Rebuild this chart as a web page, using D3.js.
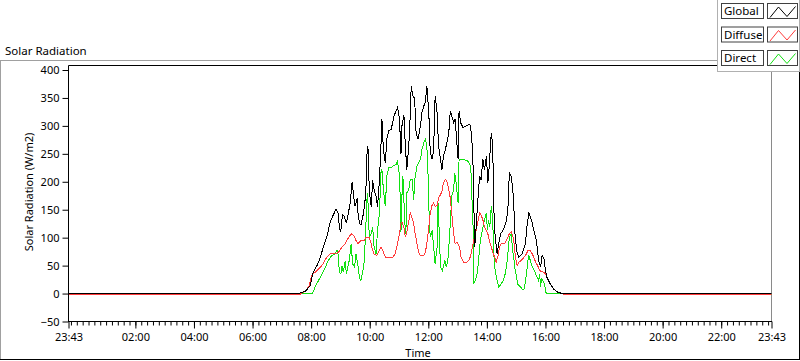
<!DOCTYPE html>
<html><head><meta charset="utf-8">
<script src="https://cdn.jsdelivr.net/npm/d3@7"></script>
<style>
html,body{margin:0;padding:0;background:#fff;}
svg{display:block;font-family:"Noto Sans",sans-serif;}
</style></head>
<body><svg id="c" width="800" height="361"></svg>
<script>
// ---------------- DATA ----------------
const chartTitle = "Solar Radiation";
const yAxisTitle = "Solar Radiation (W/m2)";
const xAxisTitle = "Time";
const seriesNames = ["Global", "Diffuse", "Direct"];
const seriesColors = ["#000000", "#ff3b3b", "#12e012"];
const yTicks = [-50, 0, 50, 100, 150, 200, 250, 300, 350, 400];
const xStartLabel = "23:43";
const xEndLabel = "23:43";
const xMidTickHours = ["02:00","04:00","06:00","08:00","10:00","12:00","14:00","16:00","18:00","20:00","22:00"];

// night values (sensor offset seen below the zero line)
const globalNight = 0, diffuseNight = -2, directNight = -2;

const globalTimes = ["07:31","07:37","07:48","07:58","08:04","08:12","08:18","08:25","08:33","08:39",
"08:45","08:51","08:55","08:58","09:00","09:02","09:04","09:08","09:12","09:15",
"09:20","09:24","09:27","09:30","09:34","09:36","09:39","09:42","09:46","09:49",
"09:52","09:55","09:57","09:59","10:03","10:06","10:09","10:13","10:16","10:20",
"10:23","10:25","10:28","10:32","10:35","10:39","10:44","10:47","10:50","10:54",
"10:57","11:01","11:04","11:06","11:10","11:13","11:16","11:20","11:23","11:25",
"11:28","11:32","11:35","11:39","11:44","11:47","11:51","11:54","11:57","12:01",
"12:04","12:08","12:11","12:14","12:18","12:21","12:25","12:28","12:31","12:35",
"12:38","12:42","12:45","12:48","12:52","12:55","12:59","13:01","13:03","13:06",
"13:11","13:18","13:25","13:28","13:31","13:33","13:35","13:38","13:42","13:45",
"13:48","13:52","13:55","13:59","14:02","14:05","14:09","14:12","14:14","14:17",
"14:21","14:24","14:28","14:33","14:36","14:40","14:43","14:46","14:50","14:53",
"14:55","14:57","15:01","15:05","15:12","15:19","15:22","15:26","15:29","15:33",
"15:36","15:40","15:43","15:46","15:50","15:53","15:57","16:00","16:03","16:10",
"16:17","16:24","16:34"];
const globalValues = [0,1,4,14,38,50,63,83,104,128,
140,151,145,119,110,119,142,138,126,138,
162,200,175,156,170,144,126,123,138,155,
180,264,258,186,155,203,186,174,155,204,
264,312,258,234,276,291,294,306,318,327,
333,312,249,300,320,264,222,264,318,372,
355,349,288,276,300,324,336,342,372,324,
252,240,258,354,324,264,240,222,246,258,
270,288,327,318,306,312,264,240,327,306,
297,300,303,288,252,174,83,119,174,210,
204,240,222,246,198,230,288,264,156,101,
71,89,107,113,119,131,150,216,210,186,
162,113,77,65,71,89,119,144,138,126,
113,101,83,59,47,68,62,41,29,17,
8,3,0];

const diffuseTimes = ["07:36","07:48","07:56","08:01","08:12","08:22","08:32","08:39","08:49","08:56",
"09:03","09:10","09:15","09:22","09:27","09:32","09:36","09:42","09:49","09:52",
"09:59","10:03","10:06","10:09","10:14","10:20","10:23","10:27","10:30","10:33",
"10:47","10:52","10:57","11:01","11:04","11:06","11:10","11:13","11:16","11:23",
"11:27","11:30","11:33","11:37","11:40","11:44","11:51","11:54","11:57","12:01",
"12:04","12:08","12:11","12:14","12:18","12:21","12:25","12:28","12:31","12:35",
"12:38","12:42","12:45","12:48","12:52","12:55","12:59","13:04","13:07","13:13",
"13:18","13:23","13:27","13:29","13:33","13:38","13:42","13:45","13:48","13:52",
"13:55","13:59","14:02","14:05","14:09","14:12","14:16","14:19","14:23","14:26",
"14:29","14:36","14:40","14:43","14:46","14:50","14:53","14:55","14:59","15:02",
"15:05","15:10","15:16","15:21","15:24","15:29","15:33","15:36","15:40","15:44",
"15:48","15:57","16:00","16:03","16:10","16:17","16:24","16:34","16:40"];
const diffuseValues = [-2,4,14,33,41,50,65,71,71,74,
83,89,98,107,104,95,89,95,95,101,
101,89,77,71,68,77,83,77,68,65,
65,71,89,107,126,128,119,101,110,144,
135,126,107,89,74,68,68,74,89,119,
144,159,162,156,158,171,177,183,198,204,
201,186,171,144,107,89,92,83,65,56,
56,59,68,77,95,113,131,144,141,131,
120,113,107,95,84,74,65,56,68,83,
89,89,95,101,107,110,104,95,62,50,
56,59,65,71,77,77,71,65,56,50,
41,38,35,29,17,8,3,0,-2];

const directTimes = ["07:31","08:03","08:08","08:15","08:22","08:29","08:35","08:42","08:49","08:53",
"08:55","08:58","09:01","09:03","09:06","09:10","09:12","09:15","09:18","09:22",
"09:25","09:29","09:32","09:36","09:39","09:42","09:46","09:49","09:52","09:55",
"09:57","09:59","10:03","10:06","10:09","10:13","10:16","10:20","10:23","10:25",
"10:28","10:32","10:35","10:39","10:44","10:47","10:54","10:57","11:01","11:03",
"11:04","11:06","11:08","11:12","11:14","11:16","11:20","11:23","11:27","11:30",
"11:33","11:37","11:44","11:47","11:51","11:54","11:57","11:59","12:02","12:04",
"12:08","12:11","12:14","12:18","12:20","12:23","12:25","12:29","12:34","12:37",
"12:40","12:43","12:45","12:48","12:52","12:54","12:57","12:59","13:01","13:03",
"13:11","13:21","13:27","13:28","13:30","13:32","13:33","13:36","13:40","13:43",
"13:45","13:48","13:52","13:55","13:59","14:01","14:03","14:06","14:09","14:12",
"14:14","14:17","14:21","14:24","14:28","14:33","14:36","14:40","14:43","14:46",
"14:50","14:53","14:55","14:57","15:01","15:03","15:09","15:14","15:17","15:21",
"15:24","15:26","15:29","15:33","15:36","15:40","15:43","15:46","15:48","15:50",
"15:52","15:55","15:58","16:01","16:03","16:38","16:40"];
const directValues = [0,0,12,23,35,47,59,68,71,77,
71,38,35,50,38,59,35,47,59,89,
53,47,71,50,29,23,41,59,119,180,
156,101,107,119,83,71,113,144,216,222,
186,156,210,225,225,228,231,237,210,156,
110,174,210,126,107,180,186,204,204,168,
210,228,240,258,270,276,264,228,131,101,
113,83,53,83,162,95,47,41,59,47,
59,95,126,174,186,216,198,180,162,240,
240,237,228,204,156,113,17,23,35,59,
83,101,119,131,144,113,131,119,156,131,
71,41,23,12,15,23,29,47,71,101,
107,75,65,47,29,17,12,6,10,35,
59,68,59,47,44,35,29,23,35,12,
26,23,17,2,0,0,-2];

// ---------------- CHART ----------------
const svg = d3.select("#c");
const plot = {left: 68.5, right: 771.5, top: 65.5, bottom: 321.5};
const start = new Date(2000, 0, 1, 23, 43);
const end = new Date(2000, 0, 2, 23, 43);
const parseT = s => { const [h, m] = s.split(":").map(Number); return new Date(2000, 0, 2, h, m); };

const x = d3.scaleTime().domain([start, end]).range([plot.left, plot.right]);
const y = d3.scaleLinear().domain([-50, 400]).range([plot.bottom, 70]);

// panel frame
svg.append("rect").attr("width", 800).attr("height", 361).attr("fill", "#fff");
svg.append("line").attr("x1", 0).attr("x2", 717).attr("y1", 60.5).attr("y2", 60.5).attr("stroke", "#a0a0a0");
svg.append("line").attr("x1", 0.5).attr("x2", 0.5).attr("y1", 60).attr("y2", 360).attr("stroke", "#a0a0a0");
svg.append("line").attr("x1", 0).attr("x2", 800).attr("y1", 359.5).attr("y2", 359.5).attr("stroke", "#000");
svg.append("line").attr("x1", 799.5).attr("x2", 799.5).attr("y1", 72).attr("y2", 360).attr("stroke", "#000");

// title
svg.append("text").attr("x", 5).attr("y", 55).attr("font-size", 11.5).attr("fill", "#000").text(chartTitle);

// plot frame
svg.append("line").attr("x1", plot.left).attr("x2", plot.right).attr("y1", plot.top).attr("y2", plot.top).attr("stroke", "#000");
svg.append("line").attr("x1", plot.right).attr("x2", plot.right).attr("y1", plot.top).attr("y2", plot.bottom).attr("stroke", "#8a8a8a");

// clip
svg.append("clipPath").attr("id", "clip").append("rect")
  .attr("x", plot.left).attr("y", plot.top).attr("width", plot.right - plot.left).attr("height", plot.bottom - plot.top);

const build = (times, values, night) =>
  [{t: start, v: night}].concat(times.map((s, i) => ({t: parseT(s), v: values[i]}))).concat([{t: end, v: night}]);

const series = [
  {name: seriesNames[2], color: seriesColors[2], data: build(directTimes, directValues, directNight)},
  {name: seriesNames[1], color: seriesColors[1], data: build(diffuseTimes, diffuseValues, diffuseNight)},
  {name: seriesNames[0], color: seriesColors[0], data: build(globalTimes, globalValues, globalNight)}
];

const line = d3.line().x(d => x(d.t)).y(d => y(d.v));
svg.append("g").attr("clip-path", "url(#clip)")
  .selectAll("path").data(series).join("path")
  .attr("d", d => line(d.data))
  .attr("fill", "none")
  .attr("stroke", d => d.color)
  .attr("stroke-width", 1)
  .attr("shape-rendering", "crispEdges");

// y axis
const yAxis = d3.axisLeft(y).tickValues(yTicks).tickSize(6).tickSizeOuter(0).tickPadding(3);
const gy = svg.append("g").attr("transform", `translate(${plot.left},0)`).call(yAxis);
gy.select(".domain").remove();
gy.selectAll("line").attr("stroke", "#000");
gy.selectAll("text").attr("font-size", 11).attr("fill", "#000").attr("font-family", "Noto Sans");
svg.append("line").attr("x1", plot.left).attr("x2", plot.left).attr("y1", plot.top).attr("y2", plot.bottom + 0.5).attr("stroke", "#000");

// x axis: minor ticks
const minorAxis = d3.axisBottom(x).tickValues(d3.timeMinute.every(12).range(start, end)).tickSize(4).tickFormat("");
const gxm = svg.append("g").attr("transform", `translate(0,${plot.bottom})`).call(minorAxis);
gxm.select(".domain").remove();
gxm.selectAll("line").attr("stroke", "#000");

// x axis: major ticks with labels
const majorVals = [start].concat(xMidTickHours.map(parseT)).concat([end]);
const majorLabels = [xStartLabel].concat(xMidTickHours).concat([xEndLabel]);
const xAxis = d3.axisBottom(x).tickValues(majorVals).tickSize(7).tickSizeOuter(0).tickPadding(5)
  .tickFormat((d, i) => majorLabels[i]);
const gx = svg.append("g").attr("transform", `translate(0,${plot.bottom})`).call(xAxis);
gx.select(".domain").remove();
gx.selectAll("line").attr("stroke", "#000");
gx.selectAll("text").attr("font-size", 11).attr("fill", "#000").attr("font-family", "Noto Sans");
svg.append("line").attr("x1", plot.left).attr("x2", plot.right + 0.5).attr("y1", plot.bottom).attr("y2", plot.bottom).attr("stroke", "#000");

// axis titles
svg.append("text").attr("transform", "translate(33,192) rotate(-90)").attr("text-anchor", "middle")
  .attr("font-size", 11).attr("fill", "#000").text(yAxisTitle);
svg.append("text").attr("x", 418).attr("y", 357).attr("text-anchor", "middle")
  .attr("font-size", 11).attr("fill", "#000").text(xAxisTitle);

// legend
const lg = svg.append("g");
lg.append("rect").attr("x", 717.5).attr("y", -1).attr("width", 82).attr("height", 72.5)
  .attr("fill", "#fff").attr("stroke", "#b0b0b0");
const legendItems = [
  {name: seriesNames[0], color: seriesColors[0]},
  {name: seriesNames[1], color: seriesColors[1]},
  {name: seriesNames[2], color: seriesColors[2]}
];
legendItems.forEach((it, i) => {
  const top = 3.5 + i * 23.5;
  lg.append("rect").attr("x", 721.5).attr("y", top).attr("width", 42).attr("height", 15)
    .attr("fill", "#fff").attr("stroke", "#404040");
  lg.append("text").attr("x", 724).attr("y", top + 11.5).attr("font-size", 11.5).attr("fill", "#000").text(it.name);
  lg.append("rect").attr("x", 767.5).attr("y", top).attr("width", 30).attr("height", 15)
    .attr("fill", "#fff").attr("stroke", "#404040");
  lg.append("polyline")
    .attr("points", [[770, top + 14], [778.5, top + 3.5], [787, top + 13], [795.5, top + 3]].map(p => p.join(",")).join(" "))
    .attr("fill", "none").attr("stroke", it.color).attr("stroke-width", 1);
});
</script></body></html>
